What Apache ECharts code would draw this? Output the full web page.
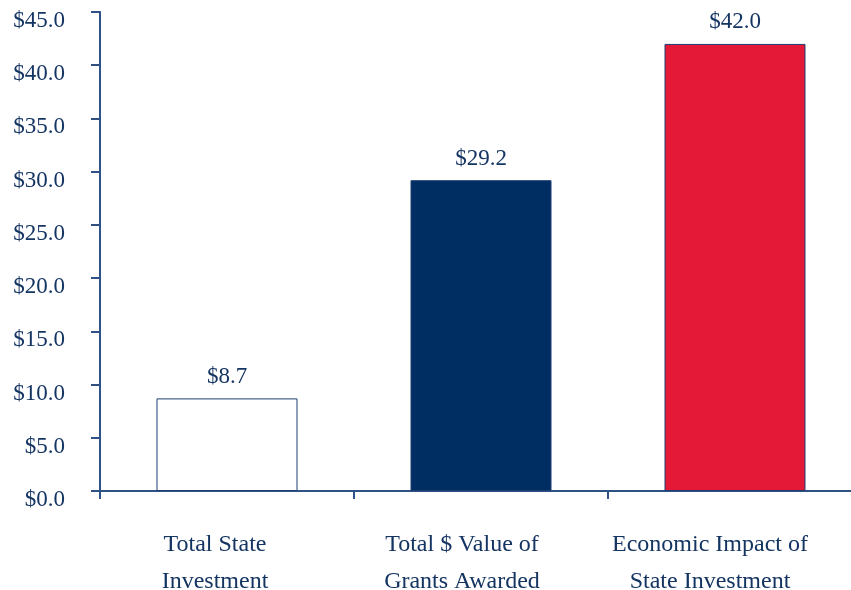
<!DOCTYPE html>
<html>
<head>
<meta charset="utf-8">
<script src="https://cdn.jsdelivr.net/npm/echarts@6/dist/echarts.min.js"></script>
<style>
  html, body { margin: 0; padding: 0; background: #fff; }
  #chart { width: 851px; height: 590px; }
</style>
</head>
<body>
<div id="chart"></div>
<script>
    var categories = ['Total State\nInvestment', 'Total $ Value of\nGrants Awarded', 'Economic Impact of\nState Investment'];
    var values = [8.7, 29.2, 42.0];
    var barColors = ['#ffffff', '#002d62', '#e31937'];
    // the labels sit a little left of their category centre in the original
    var labelShift = [24, 38, 50];

    var axisColor = '#2f5286';
    var textColor = '#143462';
    var font = '"Liberation Serif", "Times New Roman", serif';

    var chart = echarts.init(document.getElementById('chart'));
    chart.setOption({
        animation: false,
        grid: {
            left: 100,
            right: -11,
            top: 12,
            bottom: 99,
            containLabel: false,
            outerBoundsMode: 'none'
        },
        xAxis: {
            type: 'category',
            data: categories.map(function (c, i) {
                return { value: c, textStyle: { padding: [0, labelShift[i], 0, 0] } };
            }),
            axisLine: { lineStyle: { color: axisColor, width: 2 } },
            axisTick: { show: true, length: 8, lineStyle: { color: axisColor, width: 2 } },
            axisLabel: {
                color: textColor,
                fontFamily: font,
                fontSize: 24,
                lineHeight: 37,
                margin: 35,
                interval: 0
            }
        },
        yAxis: {
            type: 'value',
            min: 0,
            max: 45,
            interval: 5,
            splitLine: { show: false },
            axisLine: { show: true, lineStyle: { color: axisColor, width: 2 } },
            axisTick: { show: true, length: 9, lineStyle: { color: axisColor, width: 2 } },
            axisLabel: {
                color: textColor,
                fontFamily: font,
                fontSize: 23,
                margin: 35,
                verticalAlign: 'top',
                lineHeight: 18,
                formatter: function (v) { return '$' + v.toFixed(1); }
            }
        },
        series: [
            {
                type: 'bar',
                barWidth: 141,
                data: values.map(function (v, i) {
                    return {
                        value: v,
                        itemStyle: { color: barColors[i], borderColor: '#1f3f73', borderWidth: 1 }
                    };
                }),
                label: {
                    show: true,
                    position: 'top',
                    distance: 10,
                    color: textColor,
                    fontFamily: font,
                    fontSize: 23,
                    formatter: function (p) { return '$' + p.value.toFixed(1); }
                }
            }
        ]
    });
</script>
</body>
</html>
